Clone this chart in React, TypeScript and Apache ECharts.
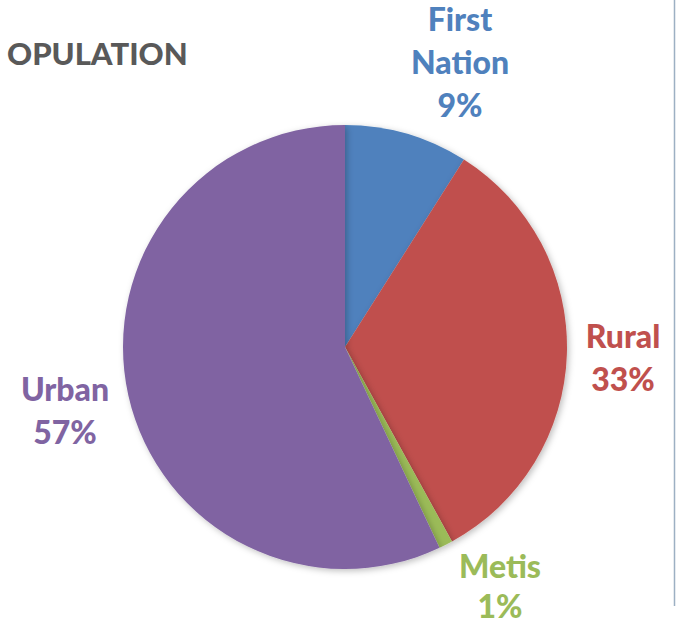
import React, { useEffect, useRef } from "react";
import * as echarts from "echarts";

const categories = ["First Nation", "Rural", "Metis", "Urban"];
const values = [9, 33, 1, 57];
const colors = ["#4F81BD", "#C0504D", "#9BBB59", "#8064A2"];
const titleText = "OPULATION";

const labelPos = [
  { x: 460, y: 61, lh: 43 },
  { x: 623, y: 357, lh: 43 },
  { x: 500, y: 585, lh: 40 },
  { x: 65, y: 410, lh: 43 },
];

export default function App() {
  const ref = useRef<HTMLDivElement>(null);
  useEffect(() => {
    if (!ref.current) return;
    const chart = echarts.init(ref.current, null, { renderer: "svg" });
    chart.setOption({
      animation: false,
      backgroundColor: "#ffffff",
      title: {
        text: titleText,
        left: 2,
        top: 32,
        textStyle: {
          fontFamily: "Lato",
          fontWeight: 900,
          fontSize: 31,
          color: "#595959",
        },
      },
      graphic: [
        {
          type: "line",
          shape: { x1: 674.5, y1: 0, x2: 674.5, y2: 606 },
          style: { stroke: "#9DB0C3", lineWidth: 1.5 },
        },
      ],
      series: [
        {
          type: "pie",
          center: [345, 347],
          radius: 222,
          startAngle: 90,
          clockwise: true,
          avoidLabelOverlap: false,
          itemStyle: {
            shadowBlur: 6,
            shadowColor: "rgba(0,0,0,0.25)",
            shadowOffsetX: 2,
            shadowOffsetY: 2,
          },
          label: {
            show: true,
            position: "outside",
            fontFamily: "Lato",
            fontWeight: 900,
            fontSize: 32,
            lineHeight: 43,
            align: "center",
            formatter: (p: any) => p.name.split(" ").join("\n") + "\n" + p.value + "%",
          },
          labelLine: { show: false },
          labelLayout: (params: any) => {
            const pos = labelPos[params.dataIndex];
            return { x: pos.x, y: pos.y, align: "center", verticalAlign: "middle" };
          },
          data: categories.map((name, i) => ({
            name,
            value: values[i],
            itemStyle: { color: colors[i] },
            label: { color: colors[i], lineHeight: labelPos[i].lh },
          })),
        },
      ],
    });
    return () => chart.dispose();
  }, []);
  return (
    <div
      ref={ref}
      style={{ position: "absolute", left: 0, top: 0, width: 676, height: 624 }}
    />
  );
}
